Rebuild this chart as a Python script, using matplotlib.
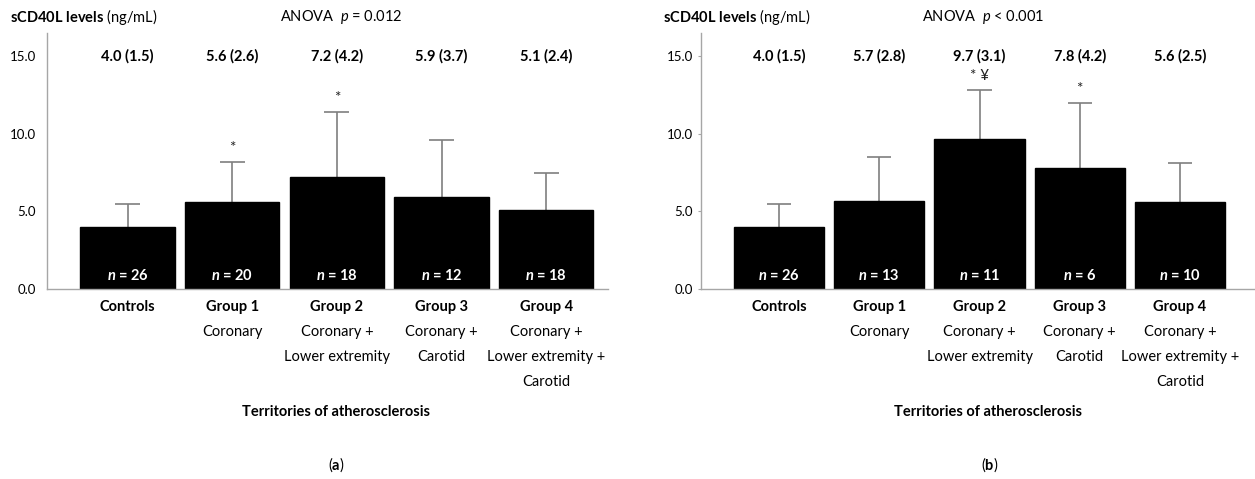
import matplotlib.pyplot as plt

plt.rcParams['font.family'] = ['Lato', 'DejaVu Sans']
plt.rcParams['mathtext.fontset'] = 'custom'
plt.rcParams['mathtext.rm'] = 'Lato'
plt.rcParams['mathtext.bf'] = 'Lato:bold'
plt.rcParams['mathtext.it'] = 'Lato:bold:italic'
plt.rcParams['mathtext.sf'] = 'Lato:italic'

groups = ["Controls", "Group 1", "Group 2", "Group 3", "Group 4"]
subtitles = [[], ["Coronary"], ["Coronary +", "Lower extremity"],
             ["Coronary +", "Carotid"], ["Coronary +", "Lower extremity +", "Carotid"]]

means_a = [4.0, 5.6, 7.2, 5.9, 5.1]
sd_a = [1.5, 2.6, 4.2, 3.7, 2.4]
n_a = [26, 20, 18, 12, 18]
marks_a = ["", "*", "*", "", ""]

means_b = [4.0, 5.7, 9.7, 7.8, 5.6]
sd_b = [1.5, 2.8, 3.1, 4.2, 2.5]
n_b = [26, 13, 11, 6, 10]
marks_b = ["", "", "* \u00a5", "*", ""]

yticks = [0, 5, 10, 15]
GRAY = "#a6a6a6"
ERR = "#7f7f7f"
FS = 10.5


def draw_panel(ax, means, sds, ns, marks, xlim, small_ticks):
    x = list(range(len(means)))
    tops = [m + s for m, s in zip(means, sds)]
    ax.bar(x, means, width=0.9, color="black", edgecolor="black", zorder=2)
    # upper error bar only, no lower cap
    ax.vlines(x, means, tops, color=ERR, linewidth=1.2, zorder=1)
    ax.hlines(tops, [i - 0.12 for i in x], [i + 0.12 for i in x],
              color=ERR, linewidth=1.2, zorder=1)
    ax.set_xlim(*xlim)
    ax.set_ylim(0, 16.5)
    ax.set_yticks(yticks)
    ax.set_yticklabels(["%.1f" % v for v in yticks], fontsize=9.5)
    ax.set_xticks([])
    for s in ["top", "right"]:
        ax.spines[s].set_visible(False)
    for s in ["left", "bottom"]:
        ax.spines[s].set_color(GRAY)
        ax.spines[s].set_linewidth(1.0)
    if small_ticks:
        ax.tick_params(axis="y", length=2, color=GRAY, pad=4)
    else:
        ax.tick_params(axis="y", length=0, pad=8)

    for i in x:
        m, s = means[i], sds[i]
        ax.text(i, 15, "%.1f (%.1f)" % (m, s), ha="center", va="center",
                fontsize=FS, fontweight="bold")
        ax.text(i, 0.85, r"$\mathit{n}$ = %d" % ns[i], ha="center", va="center",
                fontsize=FS, fontweight="bold", color="white")
        if marks[i]:
            ax.text(i, tops[i] + 0.9, marks[i], ha="center", va="center",
                    fontsize=11, color="#222222")
        ax.annotate(groups[i], xy=(i, 0), xycoords=("data", "axes fraction"),
                    xytext=(0, -18), textcoords="offset pixels",
                    ha="center", va="center", fontsize=FS, fontweight="bold")
        for k, line in enumerate(subtitles[i]):
            ax.annotate(line, xy=(i, 0), xycoords=("data", "axes fraction"),
                        xytext=(0, -43 - 25 * k), textcoords="offset pixels",
                        ha="center", va="center", fontsize=FS)


fig = plt.figure(figsize=(12.55, 4.79), dpi=100)
ax1 = fig.add_axes([47 / 1255, 1 - 289 / 479, (608 - 47) / 1255, 256 / 479])
ax2 = fig.add_axes([701 / 1255, 1 - 289 / 479, (1255 - 701) / 1255, 256 / 479])

draw_panel(ax1, means_a, sd_a, n_a, marks_a, (-0.77, 4.59), False)
draw_panel(ax2, means_b, sd_b, n_b, marks_b, (-0.78, 4.75), True)

fig.text(10 / 1255, 1 - 17 / 479, r"$\mathbf{sCD40L\ levels}$ (ng/mL)", fontsize=FS, va="center")
fig.text(663 / 1255, 1 - 17 / 479, r"$\mathbf{sCD40L\ levels}$ (ng/mL)", fontsize=FS, va="center")
fig.text(280 / 1255, 1 - 17 / 479, r"ANOVA  $\mathsf{p}$ = 0.012", fontsize=FS, va="center")
fig.text(922 / 1255, 1 - 17 / 479, r"ANOVA  $\mathsf{p}$ < 0.001", fontsize=FS, va="center")

fig.text(336 / 1255, 1 - 412 / 479, "Territories of atherosclerosis", ha="center", va="center",
         fontsize=FS, fontweight="bold")
fig.text(988 / 1255, 1 - 412 / 479, "Territories of atherosclerosis", ha="center", va="center",
         fontsize=FS, fontweight="bold")
fig.text(336 / 1255, 1 - 465 / 479, r"($\mathbf{a}$)", ha="center", va="center", fontsize=FS)
fig.text(990 / 1255, 1 - 465 / 479, r"($\mathbf{b}$)", ha="center", va="center", fontsize=FS)

fig.savefig("out.png", dpi=100)
